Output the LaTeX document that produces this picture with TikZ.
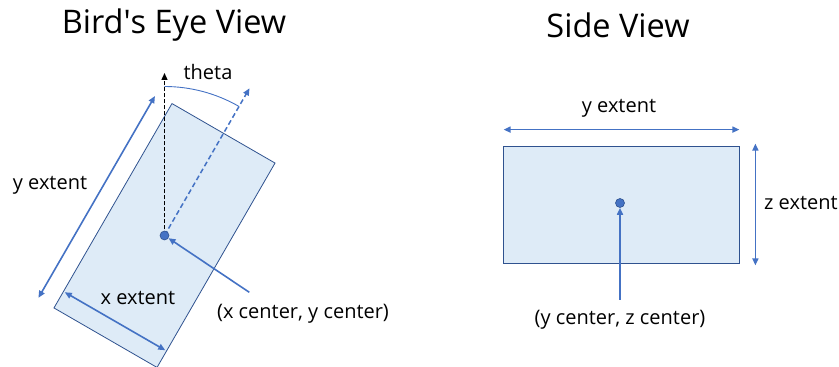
\documentclass[tikz,border=0pt]{standalone}
\usepackage{fontspec}
\setmainfont{Open Sans}
\usetikzlibrary{arrows.meta,positioning}
\definecolor{officeblue}{RGB}{68,114,196}
\definecolor{boxfill}{RGB}{222,235,247}
\definecolor{boxline}{RGB}{47,82,143}

\begin{document}
\begin{tikzpicture}[x=1pt, y=1pt,
  every node/.style={font=\fontsize{20}{24}\selectfont, inner sep=0pt},
  title/.style={font=\fontsize{32.5}{38}\selectfont},
  box/.style={draw=boxline, fill=boxfill, line width=0.8pt},
  dimline/.style={officeblue, line width=1.6pt, {Triangle[length=7pt,width=6pt]}-{Triangle[length=7pt,width=6pt]}},
  pointer/.style={officeblue, line width=1.6pt, -{Triangle[length=7pt,width=6pt]}},
  centre/.style={circle, fill=officeblue, draw=boxline, line width=0.6pt, minimum size=9pt}]
  \useasboundingbox (0,0) rectangle (839,367);
  % titles
  \node[title] (birdtitle) at (174,342) {Bird\textquotesingle s Eye View};
  \node[title] (sidetitle) at (618,342) {Side View};
  % bird's eye view
  \coordinate (bc) at (164.5,131.5);
  \begin{scope}[shift={(bc)}, rotate=-30]
    \draw[box] (-59.5,-118) rectangle (59.5,118);
    \coordinate (ytop) at (-78,116);
    \coordinate (ybot) at (-78,-117);
    \coordinate (xleft) at (-58,-99);
    \coordinate (xright) at (58,-99);
  \end{scope}
  \coordinate (north) at (164.5,294);
  \coordinate (heading) at (249.5,278.7);
  \draw[dash pattern=on 4pt off 2pt, line width=1.4pt, -{Triangle[length=7pt,width=6pt]}] (bc) -- (north);
  \draw[officeblue, dash pattern=on 5pt off 3pt, line width=1.5pt, -{Triangle[length=7pt,width=6pt]}] (bc) -- (heading);
  \draw[officeblue, line width=0.9pt] ([shift={(90:149)}]bc) arc[start angle=90, end angle=60, radius=149];
  \node (theta) at (208,295) {theta};
  \draw[dimline] (ybot) -- (ytop);
  \draw[dimline] (xleft) -- (xright);
  \node (ylabel) at (50,182) {y extent};
  \node (xlabel) at (138,69) {x extent};
  \node[centre] (bdot) at (bc) {};
  \coordinate (bptr) at (249.3,74.7);
  \draw[pointer] (bptr) -- (bdot);
  \node (bcaption) at (303,53) {(x center, y center)};
  % side view
  \node[box, minimum width=236, minimum height=117] (srect) at (621,162.5) {};
  \node[centre] (sdot) at (620,164) {};
  \draw[dimline] ([xshift=1pt, yshift=16pt]srect.north west) -- ([yshift=16pt]srect.north east);
  \node (sylabel) at (619,259) {y extent};
  \draw[dimline] ([xshift=16pt, yshift=-2pt]srect.south east) -- ([xshift=16pt, yshift=2pt]srect.north east);
  \node[anchor=west] (szlabel) at (764,164) {z extent};
  \coordinate (sptr) at (620,67);
  \draw[pointer] (sptr) -- (sdot);
  \node (scaption) at (620,47) {(y center, z center)};
\end{tikzpicture}
\end{document}
